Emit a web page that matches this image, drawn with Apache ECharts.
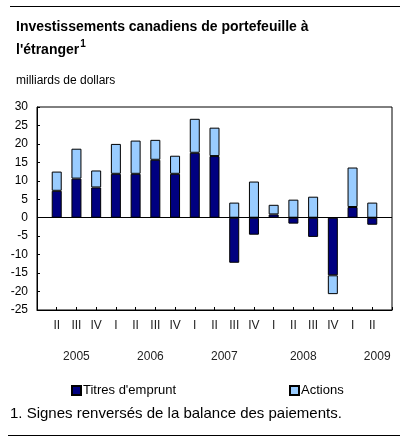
<!DOCTYPE html>
<html><head><meta charset="utf-8">
<script src="https://cdn.jsdelivr.net/npm/echarts@6/dist/echarts.min.js"></script>
<style>html,body{margin:0;padding:0;background:#fff}#c{width:407px;height:442px}</style>
</head><body><div id="c"></div>
<script>
const quarters = ['', 'II','III','IV','I','II','III','IV','I','II','III','IV','I','II','III','IV','I','II', ''];
const debt   = [null, 7.3, 10.6, 8.2, 11.9, 11.9, 15.7, 11.9, 17.6, 16.7, -12.2, -4.6, 0.9, -1.6, -5.2, -15.6, 2.9, -1.9, null];
const equity = [null, 5.2, 8.1, 4.6, 8.1, 9.0, 5.4, 4.9, 9.2, 7.7, 4.1, 9.8, 2.6, 4.9, 5.7, -5.1, 10.7, 4.1, null];
const yearLabels = {2: '2005', 5.75: '2006', 9.5: '2007', 13.5: '2008', 17.25: '2009'};
const yTicks = {min: -25, max: 30, interval: 5};

const chart = echarts.init(document.getElementById('c'), null, {renderer: 'canvas'});
const font = 'Liberation Sans, Arial, sans-serif';
chart.setOption({
  animation: false,
  textStyle: {fontFamily: font},
  title: {
    text: "Investissements canadiens de portefeuille à\nl'étranger{sup|1}",
    left: 11, top: 11,
    textStyle: {fontSize: 14, fontWeight: 'bold', color: '#000', lineHeight: 23, fontFamily: font,
      rich: {sup: {fontSize: 10, fontWeight: 'bold', verticalAlign: 'top', padding: [0,0,6,1], color: '#000', fontFamily: font}}},
    subtext: 'milliards de dollars',
    subtextStyle: {fontSize: 12, color: '#000', fontFamily: font},
    itemGap: 13
  },
  legend: [
    {data: ["Titres d'emprunt"], left: 66, top: 379, icon: 'rect', itemWidth: 9, itemHeight: 9, itemGap: 0,
     textStyle: {fontSize: 13, color: '#000', padding: [0,0,0,-3]}},
    {data: ['Actions'], left: 284, top: 379, icon: 'rect', itemWidth: 9, itemHeight: 9,
     textStyle: {fontSize: 13, color: '#000', padding: [0,0,0,-3]}}
  ],
  grid: {left: 37, right: 15, top: 107, bottom: 132, show: true, borderColor: '#000', borderWidth: 1},
  xAxis: [
    {type: 'category', data: quarters, boundaryGap: false, position: 'bottom',
     axisLine: {onZero: false, lineStyle: {color: '#000'}},
     axisTick: {inside: true, length: 3, lineStyle: {color: '#000'}},
     axisLabel: {interval: 0, margin: 10, fontSize: 12, color: '#222'}},
    {type: 'value', min: 0, max: 18, interval: 0.25, position: 'bottom',
     axisLine: {show: false, onZero: false}, axisTick: {show: false}, splitLine: {show: false},
     axisLabel: {margin: 41, fontSize: 12, color: '#222', showMinLabel: true, showMaxLabel: true, hideOverlap: false,
       formatter: v => yearLabels[v] || ''}}
  ],
  yAxis: {type: 'value', min: yTicks.min, max: yTicks.max, interval: yTicks.interval,
    axisLine: {show: true, lineStyle: {color: '#000'}},
    axisTick: {show: true, inside: true, length: 3, lineStyle: {color: '#000'}},
    splitLine: {show: false},
    axisLabel: {fontSize: 12, color: '#000', margin: 9}},
  series: [
    {name: "Titres d'emprunt", type: 'bar', stack: 's', data: debt, barWidth: 10,
     itemStyle: {color: '#000080', borderColor: '#000', borderWidth: 1},
     markLine: {silent: true, symbol: 'none', label: {show: false},
       lineStyle: {color: '#000', width: 1, type: 'solid'}, data: [{yAxis: 0}]}},
    {name: 'Actions', type: 'bar', stack: 's', data: equity, barWidth: 10,
     itemStyle: {color: '#99CCFF', borderColor: '#000', borderWidth: 1}}
  ],
  graphic: [
    {type: 'line', shape: {x1: 10, y1: 6.5, x2: 400, y2: 6.5}, style: {stroke: '#000', lineWidth: 1}},
    {type: 'line', shape: {x1: 8, y1: 435.5, x2: 400, y2: 435.5}, style: {stroke: '#000', lineWidth: 1}},
    {type: 'text', left: 10, top: 406, style: {text: '1. Signes renversés de la balance des paiements.', fontSize: 15, fill: '#000', fontFamily: font}}
  ]
});
</script></body></html>
